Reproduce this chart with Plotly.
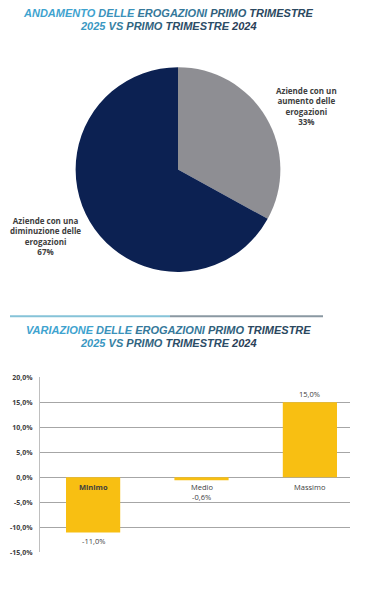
import plotly.graph_objects as go

# ---- data ----
pie_labels = ["Aziende con un<br>aumento delle<br>erogazioni", "Aziende con una<br>diminuzione delle<br>erogazioni"]
pie_values = [33, 67]
pie_colors = ["#8e8e93", "#0c2152"]

bar_cats = ["Minimo", "Medio", "Massimo"]
bar_vals = [-11.0, -0.6, 15.0]
ytick_vals = [-15, -10, -5, 0, 5, 10, 15, 20]


def it_pct(v):
    return ("%.1f" % v).replace(".", ",") + "%"


# page body has an 8px margin: figure origin sits at (8, 8) of the screenshot
OFF = 8
W, H = 379 - 2 * OFF, 594 - 2 * OFF
def fx(px):
    return (px - OFF) / W
def fy(py):
    return 1 - (py - OFF) / H

fig = go.Figure()

fig.add_trace(go.Pie(
    labels=pie_labels, values=pie_values, sort=False, direction="clockwise",
    rotation=0, marker=dict(colors=pie_colors, line=dict(width=0)),
    textinfo="none", hoverinfo="label+percent", showlegend=False,
    domain=dict(x=[fx(74), fx(282)], y=[fy(271), fy(63)]),
))

fig.add_trace(go.Bar(
    x=list(range(len(bar_cats))), y=bar_vals, width=0.5,
    marker=dict(color="#f8bf12", line=dict(width=0)),
    textposition="none", cliponaxis=False, showlegend=False, xaxis="x", yaxis="y",
))

fig.update_layout(
    width=W, height=H, margin=dict(l=0, r=0, t=0, b=0),
    paper_bgcolor="white", plot_bgcolor="white",
    xaxis=dict(domain=[fx(40), fx(350)], range=[-0.49, 2.37], showticklabels=False,
               showgrid=False, zeroline=False, showline=False, fixedrange=True),
    yaxis=dict(domain=[fy(556), fy(378)], range=[-15, 20], tickvals=ytick_vals,
               ticktext=["<b>" + it_pct(v) + "</b>" for v in ytick_vals],
               tickfont=dict(size=7, color="#404040", family="Open Sans"),
               ticklabelstandoff=5,
               showgrid=True, gridcolor="#a6a6a6", gridwidth=1, zeroline=False,
               showline=True, linecolor="#bfbfbf", ticks="", ticklen=0, fixedrange=True),
)

# pie labels
lab_font = dict(size=8, color="#404040", family="Open Sans")
fig.add_annotation(x=fx(306), y=fy(102), xref="paper", yref="paper", showarrow=False,
                   xanchor="center", yanchor="middle",
                   text="<b>" + pie_labels[0] + "<br>" + str(pie_values[0]) + "%</b>", font=lab_font, align="center")
fig.add_annotation(x=fx(45), y=fy(235), xref="paper", yref="paper", showarrow=False,
                   xanchor="center", yanchor="middle",
                   text="<b>" + pie_labels[1] + "<br>" + str(pie_values[1]) + "%</b>", font=lab_font, align="center")

# category labels below zero line, value labels near bar ends
vfont = dict(size=7.5, color="#404040", family="Open Sans")
for i, (c, v) in enumerate(zip(bar_cats, bar_vals)):
    fig.add_annotation(x=i, y=0, xref="x", yref="y", showarrow=False, yshift=-10,
                       xanchor="center", yanchor="middle",
                       text="<b>" + c + "</b>" if i == 0 else c, font=vfont)
    if v >= 0:
        fig.add_annotation(x=i, y=v, xref="x", yref="y", showarrow=False, yshift=8,
                           xanchor="center", yanchor="middle", text=it_pct(v), font=vfont)
    elif v > -3:
        fig.add_annotation(x=i, y=0, xref="x", yref="y", showarrow=False, yshift=-20,
                           xanchor="center", yanchor="middle", text=it_pct(v), font=vfont)
    else:
        fig.add_annotation(x=i, y=v, xref="x", yref="y", showarrow=False, yshift=-9,
                           xanchor="center", yanchor="middle", text=it_pct(v), font=vfont)

# titles
def title_html(words, colors):
    return " ".join('<span style="color:%s">%s</span>' % (c, w) for w, c in zip(words, colors))

tfont = dict(size=11, family="Liberation Sans")
l1 = ["ANDAMENTO", "DELLE", "EROGAZIONI", "PRIMO", "TRIMESTRE"]
c1 = ["#3ea3cf", "#3a92bb", "#35789a", "#2f5e7a", "#2b4860"]
l2 = ["2025", "VS", "PRIMO", "TRIMESTRE", "2024"]
c2 = ["#3a98c2", "#3681a2", "#306480", "#2c4d67", "#2a4058"]
l3 = ["VARIAZIONE", "DELLE", "EROGAZIONI", "PRIMO", "TRIMESTRE"]

for txt, yy in [(title_html(l1, c1), 8), (title_html(l2, c2), 21),
                (title_html(l3, c1), 330), (title_html(l2, c2), 343)]:
    fig.add_annotation(x=fx(168), y=fy(yy), xref="paper", yref="paper", showarrow=False,
                       xanchor="center", yanchor="middle",
                       text="<b><i>" + txt + "</i></b>", font=tfont)

# separator line
fig.add_shape(type="line", xref="paper", yref="paper", x0=fx(10), x1=fx(170), y0=fy(316), y1=fy(316),
              line=dict(color="#86c3d8", width=2))
fig.add_shape(type="line", xref="paper", yref="paper", x0=fx(170), x1=fx(323), y0=fy(316), y1=fy(316),
              line=dict(color="#8a98a2", width=2))

fig.write_html("out.html")
